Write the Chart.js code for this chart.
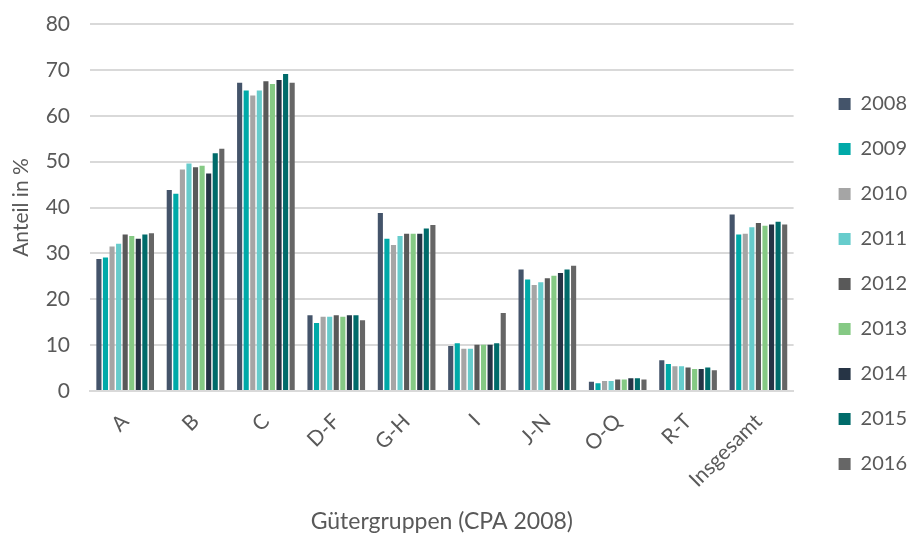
<!DOCTYPE html>
<html><head><meta charset="utf-8">
<script src="https://cdn.jsdelivr.net/npm/chart.js@4.4.1/dist/chart.umd.min.js"></script>
<style>html,body{margin:0;padding:0;background:#fff}#wrap{width:908px;height:535px}</style>
</head><body><div id="wrap"><canvas id="c"></canvas></div>
<script>
const categories = ['A','B','C','D-F','G-H','I','J-N','O-Q','R-T','Insgesamt'];
const years = ['2008','2009','2010','2011','2012','2013','2014','2015','2016'];
const v2008 = [28.8,43.8,67.2,16.5,38.8,9.8,26.5,2.0,6.7,38.5];
const v2009 = [29.1,43.0,65.5,14.8,33.2,10.4,24.3,1.7,5.9,34.1];
const v2010 = [31.5,48.3,64.4,16.2,31.8,9.2,23.1,2.2,5.4,34.3];
const v2011 = [32.1,49.6,65.5,16.2,33.8,9.2,23.7,2.2,5.4,35.7];
const v2012 = [34.1,48.8,67.5,16.5,34.3,10.1,24.6,2.5,5.1,36.6];
const v2013 = [33.8,49.1,66.9,16.2,34.3,10.1,25.1,2.5,4.8,36.0];
const v2014 = [33.2,47.4,67.8,16.5,34.3,10.1,25.7,2.8,4.8,36.3];
const v2015 = [34.1,51.8,69.1,16.5,35.4,10.4,26.5,2.8,5.1,36.9];
const v2016 = [34.4,52.8,67.2,15.4,36.2,17.0,27.3,2.5,4.5,36.3];
const seriesValues = [v2008,v2009,v2010,v2011,v2012,v2013,v2014,v2015,v2016];
const colors = ['#44546A','#00A9A8','#A5A5A5','#66CCCC','#595959','#85C984','#263445','#006B6A','#666666'];
const yTicks = [0,10,20,30,40,50,60,70,80];

const FONT = 'Lato, "Open Sans", sans-serif';
const TXT = '#595959';

// widen the legend box and move its items right (layout only)
const LEGEND_EXTRA = 11, LEGEND_SHIFT = 20;
const legendShift = {
  id: 'legendShift',
  beforeLayout(chart) {
    const lg = chart.legend;
    if (lg && !lg._patched) {
      const f = lg.fit;
      lg.fit = function () { f.call(this); this.width += LEGEND_EXTRA; };
      lg._patched = true;
    }
  },
  afterLayout(chart) {
    if (chart.legend) { chart.legend.left += LEGEND_SHIFT; }
  }
};

new Chart(document.getElementById('c'), {
  type: 'bar',
  plugins: [legendShift],
  data: {
    labels: categories,
    datasets: years.map((y,i)=>({
      label: y,
      data: seriesValues[i],
      backgroundColor: colors[i],
      borderWidth: 0,
      categoryPercentage: 0.84,
      barPercentage: 0.78
    }))
  },
  options: {
    responsive: true,
    maintainAspectRatio: false,
    animation: false,
    devicePixelRatio: 1,
    layout: { padding: { top: 0, left: 0, right: 0, bottom: 0 } },
    plugins: {
      legend: {
        position: 'right',
        align: 'center',
        title: { display: true, text: ' ', font: { size: 14 }, padding: 8 },
        labels: {
          boxWidth: 12, boxHeight: 12,
          padding: 25,
          color: TXT,
          font: { family: FONT, size: 20 }
        }
      },
      tooltip: { enabled: false }
    },
    scales: {
      x: {
        afterFit: (axis) => { axis.height = 144; },
        grid: { display: false, drawTicks: false },
        border: { display: true, color: '#D9D9D9', width: 2 },
        ticks: {
          color: TXT, font: { family: FONT, size: 21 },
          minRotation: 45, maxRotation: 45, padding: 18
        },
        title: { display: true, text: 'Gütergruppen (CPA 2008)', color: TXT,
                 font: { family: FONT, size: 23 }, padding: { top: 0, bottom: 0 } }
      },
      y: {
        min: 0, max: 80,
        afterFit: (axis) => { axis.width = 90; axis.paddingTop = 24; axis.paddingBottom = 0; },
        afterBuildTicks: (axis) => { axis.ticks = yTicks.map(v=>({value:v})); },
        grid: { color: '#D9D9D9', lineWidth: 2, drawTicks: false },
        border: { display: false },
        ticks: { color: TXT, font: { family: FONT, size: 21 }, padding: 20 },
        title: { display: true, text: 'Anteil in %', color: TXT,
                 font: { family: FONT, size: 21 }, padding: { top: 9, bottom: 2 } }
      }
    }
  }
});
</script></body></html>
